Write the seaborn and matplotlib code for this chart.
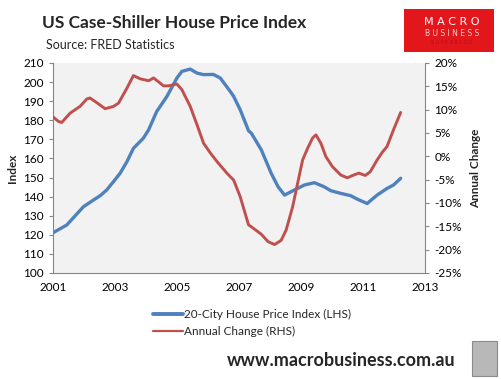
import matplotlib
matplotlib.use("Agg")
import matplotlib.pyplot as plt
from matplotlib.patches import Rectangle
from matplotlib.lines import Line2D
import seaborn as sns
import pandas as pd

# 20-City index (LHS)
index_year = [2001.0, 2001.45, 2001.99, 2002.31, 2002.53, 2002.74, 2003.0, 2003.17,
              2003.39, 2003.6, 2003.92, 2004.09, 2004.35, 2004.68, 2005.0, 2005.16,
              2005.43, 2005.65, 2005.86, 2006.18, 2006.4, 2006.72, 2006.83, 2007.04,
              2007.31, 2007.4, 2007.72, 2008.04, 2008.26, 2008.47, 2008.79, 2009.11,
              2009.43, 2009.74, 2009.96, 2010.28, 2010.6, 2010.81, 2011.13, 2011.45,
              2011.77, 2011.98, 2012.21]
index_value = [121, 125.1, 134.7, 138.2, 140.5, 143.5, 148.7, 152.2,
               158.3, 165.3, 170.6, 175, 184.6, 192.5, 202.1, 205.6,
               206.8, 204.7, 203.9, 204, 202.1, 195.1, 192.5, 185.5,
               174.5, 173.2, 164.5, 152.2, 145.2, 140.8, 143.5, 146.1,
               147.3, 145.2, 143.1, 141.7, 140.5, 138.7, 136.4, 140.8,
               144.3, 146.1, 149.6]

# Annual change in % (RHS)
change_year = [2001.0, 2001.18, 2001.29, 2001.56, 2001.88, 2002.1, 2002.2, 2002.42,
               2002.69, 2002.96, 2003.12, 2003.39, 2003.6, 2003.82, 2004.09, 2004.25,
               2004.57, 2004.73, 2005.0, 2005.16, 2005.43, 2005.65, 2005.86, 2006.08,
               2006.29, 2006.61, 2006.83, 2007.04, 2007.31, 2007.4, 2007.72, 2007.94,
               2008.15, 2008.36, 2008.52, 2008.73, 2008.89, 2009.05, 2009.21, 2009.37,
               2009.48, 2009.64, 2009.8, 2010.01, 2010.28, 2010.49, 2010.7, 2010.86,
               2011.07, 2011.23, 2011.45, 2011.61, 2011.77, 2011.98, 2012.21]
change_pct = [8.5, 7.5, 7.25, 9.25, 10.7, 12.3, 12.5, 11.5,
              10.2, 10.7, 11.4, 14.6, 17.3, 16.6, 16.2, 16.8,
              15.1, 15.1, 15.5, 14.3, 10.7, 6.75, 2.8, 0.7,
              -1.1, -3.6, -5.1, -8.65, -14.7, -15.1, -16.7, -18.3,
              -18.9, -18.0, -15.8, -10.8, -5.8, -0.8, 1.7, 3.9,
              4.6, 2.8, -0.06, -2.2, -4.0, -4.6, -4.0, -3.6,
              -4.1, -3.3, -0.8, 0.8, 2.1, 5.7, 9.4]

year_ticks = [2001, 2003, 2005, 2007, 2009, 2011, 2013]
lhs_ticks = list(range(100, 211, 10))
rhs_ticks = list(range(-25, 21, 5))

blue = "#4F81BD"
red = "#C0504D"

sns.set_style("white")
plt.rcParams["font.family"] = ["Lato", "DejaVu Sans"]

fig = plt.figure(figsize=(5.02, 3.79), dpi=100)
ax = fig.add_axes([0.105, 0.2797, 0.742, 0.5541])
ax.set_facecolor("#F2F2F2")
ax2 = ax.twinx()

idx_df = pd.DataFrame({"year": index_year, "value": index_value})
chg_df = pd.DataFrame({"year": change_year, "pct": change_pct})

sns.lineplot(data=idx_df, x="year", y="value", ax=ax, color=blue, linewidth=2.4)
sns.lineplot(data=chg_df, x="year", y="pct", ax=ax2, color=red, linewidth=2.1)

ax.set_xlim(2001, 2013)
ax.set_ylim(100, 210)
ax2.set_ylim(-25, 20)
ax.set_xticks(year_ticks)
ax.set_yticks(lhs_ticks)
ax2.set_yticks(rhs_ticks)
ax2.set_yticklabels([f"{t}%" for t in rhs_ticks])

for a in (ax, ax2):
    for s in a.spines.values():
        s.set_visible(False)
    a.tick_params(labelsize=8.5, colors="#000000", length=3, width=0.8)
    a.set_xlabel("")
ax.spines["left"].set_visible(True)
ax.spines["bottom"].set_visible(True)
ax2.spines["right"].set_visible(True)
for s in (ax.spines["left"], ax.spines["bottom"], ax2.spines["right"]):
    s.set_color("#868686")
    s.set_linewidth(0.8)
ax.tick_params(axis="both", color="#868686", direction="out")
ax2.tick_params(axis="y", color="#868686", direction="out")
ax.tick_params(axis="x", direction="inout", length=5, pad=4)

ax.set_ylabel("Index", fontsize=8.5, fontweight="bold", labelpad=4)
ax2.set_ylabel("Annual Change", fontsize=8.5, fontweight="bold", labelpad=6)

# titles
fig.text(42 / 502, 1 - 23 / 379, "US Case-Shiller House Price Index",
         fontsize=12.5, fontweight="bold", va="center", ha="left")
fig.text(46 / 502, 1 - 45 / 379, "Source: FRED Statistics",
         fontsize=9, va="center", ha="left")

# logo block
fig.patches.append(Rectangle((404 / 502, 1 - 52 / 379), 90 / 502, 43 / 379,
                             transform=fig.transFigure, facecolor="#E3161B",
                             edgecolor="none"))
fig.text(452 / 502, 1 - 22 / 379, "M A C R O", color="white", fontsize=8,
         ha="center", va="center", family="DejaVu Sans")
fig.text(452 / 502, 1 - 34 / 379, "B U S I N E S S", color="#F4D0D0", fontsize=5.5,
         ha="center", va="center", family="DejaVu Sans")
fig.text(452 / 502, 1 - 43 / 379, "S U P E R B L O G", color="#B01015", fontsize=3.5,
         ha="center", va="center", family="DejaVu Sans")

# legend
handles = [Line2D([], [], color=blue, linewidth=2.8),
           Line2D([], [], color=red, linewidth=1.6)]
fig.legend(handles, ["20-City House Price Index (LHS)", "Annual Change (RHS)"],
           loc="upper left", bbox_to_anchor=(142 / 502, 1 - 298 / 379),
           frameon=False, fontsize=8.5, handlelength=2.6, handletextpad=0.1,
           labelspacing=0.55, alignment="left")

# footer
fig.text(455 / 502, 1 - 361 / 379, "www.macrobusiness.com.au", fontsize=13,
         fontweight="bold", ha="right", va="center")
fig.patches.append(Rectangle((472 / 502, 1 - 376 / 379), 25 / 502, 35 / 379,
                             transform=fig.transFigure, facecolor="#B8B8B8",
                             edgecolor="#8A8A8A", linewidth=0.8))

fig.savefig("out.png", dpi=100)
